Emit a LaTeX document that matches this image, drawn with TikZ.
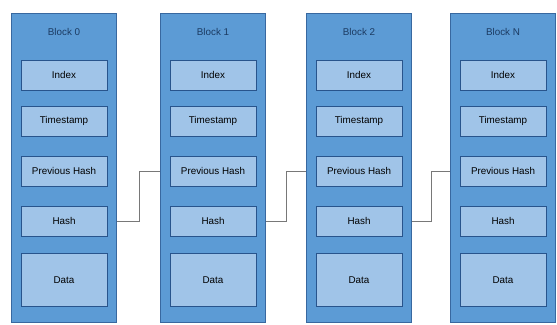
\documentclass[tikz,border=0pt]{standalone}
\usepackage{fontspec}
\setmainfont{Liberation Sans}
\usepackage{tikz}

\definecolor{blockfill}{RGB}{92,155,213}
\definecolor{blockedge}{RGB}{56,104,160}
\definecolor{fieldfill}{RGB}{160,196,232}
\definecolor{fieldedge}{RGB}{40,84,140}
\definecolor{linkgray}{RGB}{120,120,120}

\begin{document}
\begin{tikzpicture}[x=0.025cm,y=-0.025cm,line width=0.6pt,
  block/.style={draw=blockedge,fill=blockfill,minimum width=2.625cm,minimum height=7.725cm,inner sep=0pt},
  field/.style={draw=fieldedge,line width=0.4pt,fill=fieldfill,minimum width=2.15cm,minimum height=0.75cm,inner sep=0pt,font=\fontsize{7}{8}\selectfont},
  datafield/.style={field,minimum height=1.325cm},
  title/.style={font=\fontsize{7}{8}\selectfont,text=fieldedge!70!black},
  link/.style={draw=linkgray,line width=0.6pt}]
\useasboundingbox (0,0) rectangle (557,324);
% blocks
\node[block] (block0) at (64,167.5) {};
\node[block] (block1) at (213,167.5) {};
\node[block] (block2) at (359,167.5) {};
\node[block] (blockN) at (503,167.5) {};
% block 0
\node[title] (title0) at (64,32) {Block 0};
\node[field] (index0) at (64,75) {Index};
\node[field] (time0) at (64,121) {Timestamp};
\node[field] (prev0) at (64,171) {Previous Hash};
\node[field] (hash0) at (64,221) {Hash};
\node[datafield] (data0) at (64,280) {Data};
% block 1
\node[title] (title1) at (213,32) {Block 1};
\node[field] (index1) at (213,75) {Index};
\node[field] (time1) at (213,121) {Timestamp};
\node[field] (prev1) at (213,171) {Previous Hash};
\node[field] (hash1) at (213,221) {Hash};
\node[datafield] (data1) at (213,280) {Data};
% block 2
\node[title] (title2) at (359,32) {Block 2};
\node[field] (index2) at (359,75) {Index};
\node[field] (time2) at (359,121) {Timestamp};
\node[field] (prev2) at (359,171) {Previous Hash};
\node[field] (hash2) at (359,221) {Hash};
\node[datafield] (data2) at (359,280) {Data};
% block N
\node[title] (titleN) at (503,32) {Block N};
\node[field] (indexN) at (503,75) {Index};
\node[field] (timeN) at (503,121) {Timestamp};
\node[field] (prevN) at (503,171) {Previous Hash};
\node[field] (hashN) at (503,221) {Hash};
\node[datafield] (dataN) at (503,280) {Data};
% links
\draw[link] (block0.east |- hash0) -- ++(22,0) |- (block1.west |- prev1);
\draw[link] (block1.east |- hash1) -- ++(20,0) |- (block2.west |- prev2);
\draw[link] (block2.east |- hash2) -- ++(19,0) |- (blockN.west |- prevN);
\end{tikzpicture}
\end{document}
